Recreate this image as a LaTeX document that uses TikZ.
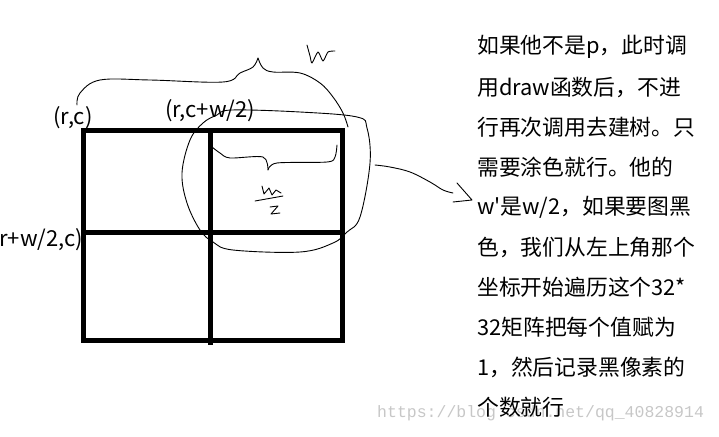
\documentclass[tikz,border=0pt]{standalone}
\usepackage{fontspec}
\setmainfont{Noto Sans CJK SC}[Ligatures=TeXOff]
\newfontfamily\markfont{Liberation Mono}
\begin{document}
\begin{tikzpicture}[x=1pt,y=-1pt,
  grid/.style={line width=5pt},
  pen/.style={line width=0.9pt, line join=round, line cap=round},
  coord/.style={font=\fontsize{22}{22}\selectfont, inner sep=0pt},
  note/.style={font=\fontsize{21.8}{21.8}\selectfont, anchor=west, inner sep=0pt}
]
\useasboundingbox (0,0) rectangle (719,436);
% the quartered square
\draw[grid] (83,130) rectangle (342,340);
\draw[grid] (210,130) -- (210,345);
\draw[grid] (83,232) -- (342,232);
% corner labels
\node[coord] (rc) at (73,118) {(r,c)};
\node[coord] (rcw) at (210,111) {(r,c+w/2)};
\node[coord, anchor=east] (rwc) at (83,240) {(r+w/2,c)};
% brace over the whole square
\draw[pen] plot[smooth, tension=0.6] coordinates {(77,105) (80,93) (100,80) (150,80) (223,82) (240,73) (253,67) (258,58)};
\draw[pen] plot[smooth, tension=0.6] coordinates {(258,58) (263,68) (273,72) (300,73) (320,83) (333,97) (343,113) (348,127)};
\draw[pen] plot[smooth, tension=0.4] coordinates {(307,45) (310,56) (312,63) (318,52) (323,61) (328,52) (335,51)};
% loop round the top right quarter
\draw[pen] plot[smooth cycle, tension=0.6] coordinates {(232,110) (300,112) (357,117) (367,128) (370,163) (360,217) (347,232) (333,243) (300,252) (233,250) (213,242) (200,230) (187,203) (182,173) (190,140) (203,123) (217,115)};
% brace and w/2 inside it
\draw[pen] plot[smooth, tension=0.5] coordinates {(212,147) (220,153) (230,158) (263,157) (268,170)};
\draw[pen] plot[smooth, tension=0.5] coordinates {(268,170) (277,163) (327,162) (335,157) (337,145)};
\draw[pen] (262,186) -- (264,194) -- (269,188) -- (272,195) -- (276,190) -- (281,193);
\draw[pen] (255,201) -- (283,196);
\draw[pen] (270,207) -- (278,206) -- (271,214) -- (280,213);
% arrow to the note
\coordinate (from) at (375,165);
\coordinate (tip) at (472,200);
\draw[pen] plot[smooth, tension=0.6] coordinates {(from) (390,167) (410,172) (430,182) (443,190) (453,193)};
\draw[pen] (457,183) -- (tip) -- (453,202);
% watermark
\node[font=\markfont\fontsize{16.5}{16.5}\selectfont, text=black!22, anchor=west, inner sep=0pt] (mark) at (377,413) {https://blog.csdn.net/qq\_40828914};
% note text
\foreach \txt [count=\i] in {如果他不是p，此时调, 用draw函数后，不进, 行再次调用去建树。只, 需要涂色就行。他的, w'是w/2，如果要图黑, 色，我们从左上角那个, 坐标开始遍历这个32*, 32矩阵把每个值赋为, 1，然后记录黑像素的, 个数就行}
  \node[note] (txt\i) at (477,{7+40*\i}) {\txt};
\end{tikzpicture}
\end{document}
